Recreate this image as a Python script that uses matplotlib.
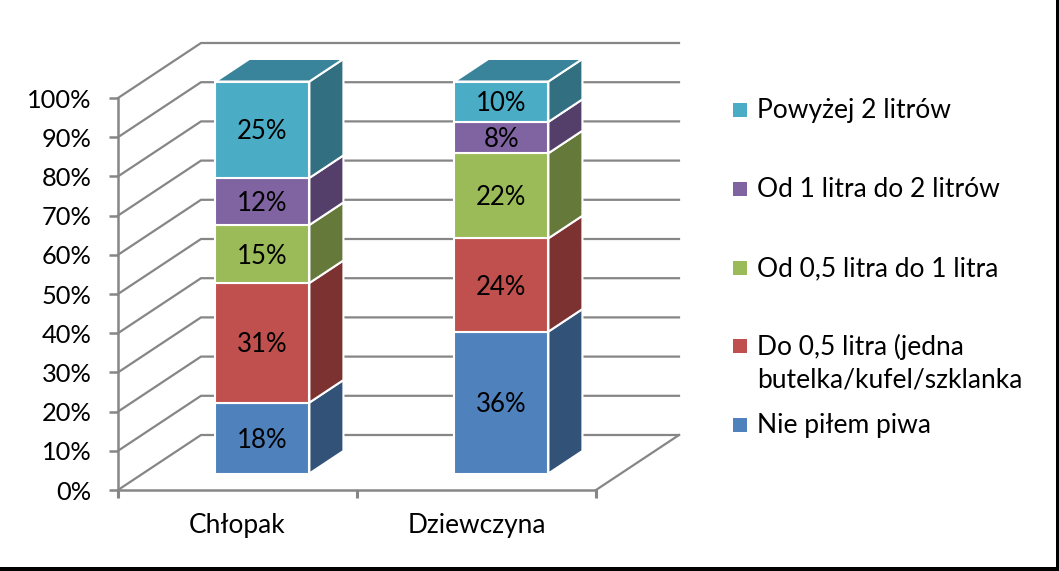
import matplotlib
matplotlib.use("Agg")
import matplotlib.pyplot as plt
from matplotlib.patches import Polygon, Rectangle

plt.rcParams['font.family'] = ['Lato', 'DejaVu Sans']

categories = ["Chłopak", "Dziewczyna"]
series_names = ["Nie piłem piwa", "Do 0,5 litra (jedna\nbutelka/kufel/szklanka",
                "Od 0,5 litra do 1 litra", "Od 1 litra do 2 litrów", "Powyżej 2 litrów"]
chlopak = [18.1, 30.5, 14.8, 12.0, 24.6]
dziewczyna = [36.2, 23.8, 21.7, 8.0, 10.3]
chlopak_labels = ["18%", "31%", "15%", "12%", "25%"]
dziewczyna_labels = ["36%", "24%", "22%", "8%", "10%"]
front_colors = ["#4F81BD", "#C0504D", "#9BBB59", "#8064A2", "#4BACC6"]
side_colors = ["#325278", "#7C3230", "#64793A", "#533F6A", "#326F80"]
top_color = "#39849A"
grid_color = "#868686"

W, H = 1059, 571
# wall depth in axis units (83 px right, 55 px up)
DX = 83 / 239
DY = 55 / 3.92
BAR_W = 94 / 239
D0, D1 = 0.30, 0.71


def proj(x, y, d=0.0):
    return (x + d * DX, y + d * DY)


fig = plt.figure(figsize=(W / 100, H / 100), dpi=100, facecolor="white")
ax = fig.add_axes([118 / W, (H - 490) / H, 478 / W, 392 / H])
ax.set_xlim(0, 2)
ax.set_ylim(0, 100)
ax.patch.set_alpha(0)

# walls and floor
for v in range(0, 101, 10):
    ax.plot(*zip(proj(0, v), proj(0, v, 1), proj(2, v, 1)), color=grid_color, lw=1.6,
            clip_on=False, zorder=1, solid_joinstyle="miter")
ax.plot(*zip(proj(2, 0), proj(2, 0, 1)), color=grid_color, lw=1.6, clip_on=False, zorder=1)

# bars
for i, (vals, labs) in enumerate(zip([chlopak, dziewczyna], [chlopak_labels, dziewczyna_labels])):
    x0 = i + 0.5 - BAR_W / 2
    x1 = x0 + BAR_W
    base = 0
    for j, (v, lab) in enumerate(zip(vals, labs)):
        y0, y1 = base, base + v
        side = [proj(x1, y0, D0), proj(x1, y0, D1), proj(x1, y1, D1), proj(x1, y1, D0)]
        front = [proj(x0, y0, D0), proj(x1, y0, D0), proj(x1, y1, D0), proj(x0, y1, D0)]
        ax.add_patch(Polygon(side, fc=side_colors[j], ec="white", lw=1.5, clip_on=False, zorder=3))
        ax.add_patch(Polygon(front, fc=front_colors[j], ec="white", lw=1.5, clip_on=False, zorder=4))
        ax.annotate(lab, proj(i + 0.5, (y0 + y1) / 2, D0), xytext=(0, -1.5), textcoords="offset points",
                    ha="center", va="center", fontsize=18.5, color="black", zorder=5)
        base = y1
    top = [proj(x0, base, D0), proj(x1, base, D0), proj(x1, base, D1), proj(x0, base, D1)]
    ax.add_patch(Polygon(top, fc=top_color, ec="white", lw=1.5, clip_on=False, zorder=3))

# axes, ticks
for s in ["top", "right"]:
    ax.spines[s].set_visible(False)
for s in ["left", "bottom"]:
    ax.spines[s].set_color(grid_color)
    ax.spines[s].set_linewidth(1.8)
ax.set_yticks(range(0, 101, 10))
ax.set_yticklabels([f"{v}%" for v in range(0, 101, 10)], fontsize=18.3)
ax.set_xticks([0, 1, 2])
ax.set_xticklabels([])
ax.set_xticks([0.5, 1.5], minor=True)
ax.set_xticklabels(categories, minor=True, fontsize=18.9)
ax.tick_params(axis="y", color=grid_color, width=1.8, length=6.5, pad=12.5)
ax.tick_params(axis="x", which="major", color=grid_color, width=2.2, length=5.5)
ax.tick_params(axis="x", which="minor", length=0, pad=16.5)

# legend, placed by hand because of its uneven spacing
legend_y = [425, 346, 268, 189, 110]
for name, col, y in zip(series_names, front_colors, legend_y):
    fig.add_artist(Rectangle((733 / W, 1 - (y + 7) / H), 14 / W, 14 / H, fc=col, ec="none",
                             transform=fig.transFigure))
    fig.text(757 / W, 1 - (y - 12) / H, name, ha="left", va="top", fontsize=19,
             linespacing=1.38, color="black")

# black shadow edges of the picture
fig.add_artist(Rectangle((0, 0), 1, 4 / H, fc="black", ec="none", transform=fig.transFigure))
fig.add_artist(Rectangle((1 - 3 / W, 0), 3 / W, 1, fc="black", ec="none", transform=fig.transFigure))

fig.savefig("out.png", dpi=100)
